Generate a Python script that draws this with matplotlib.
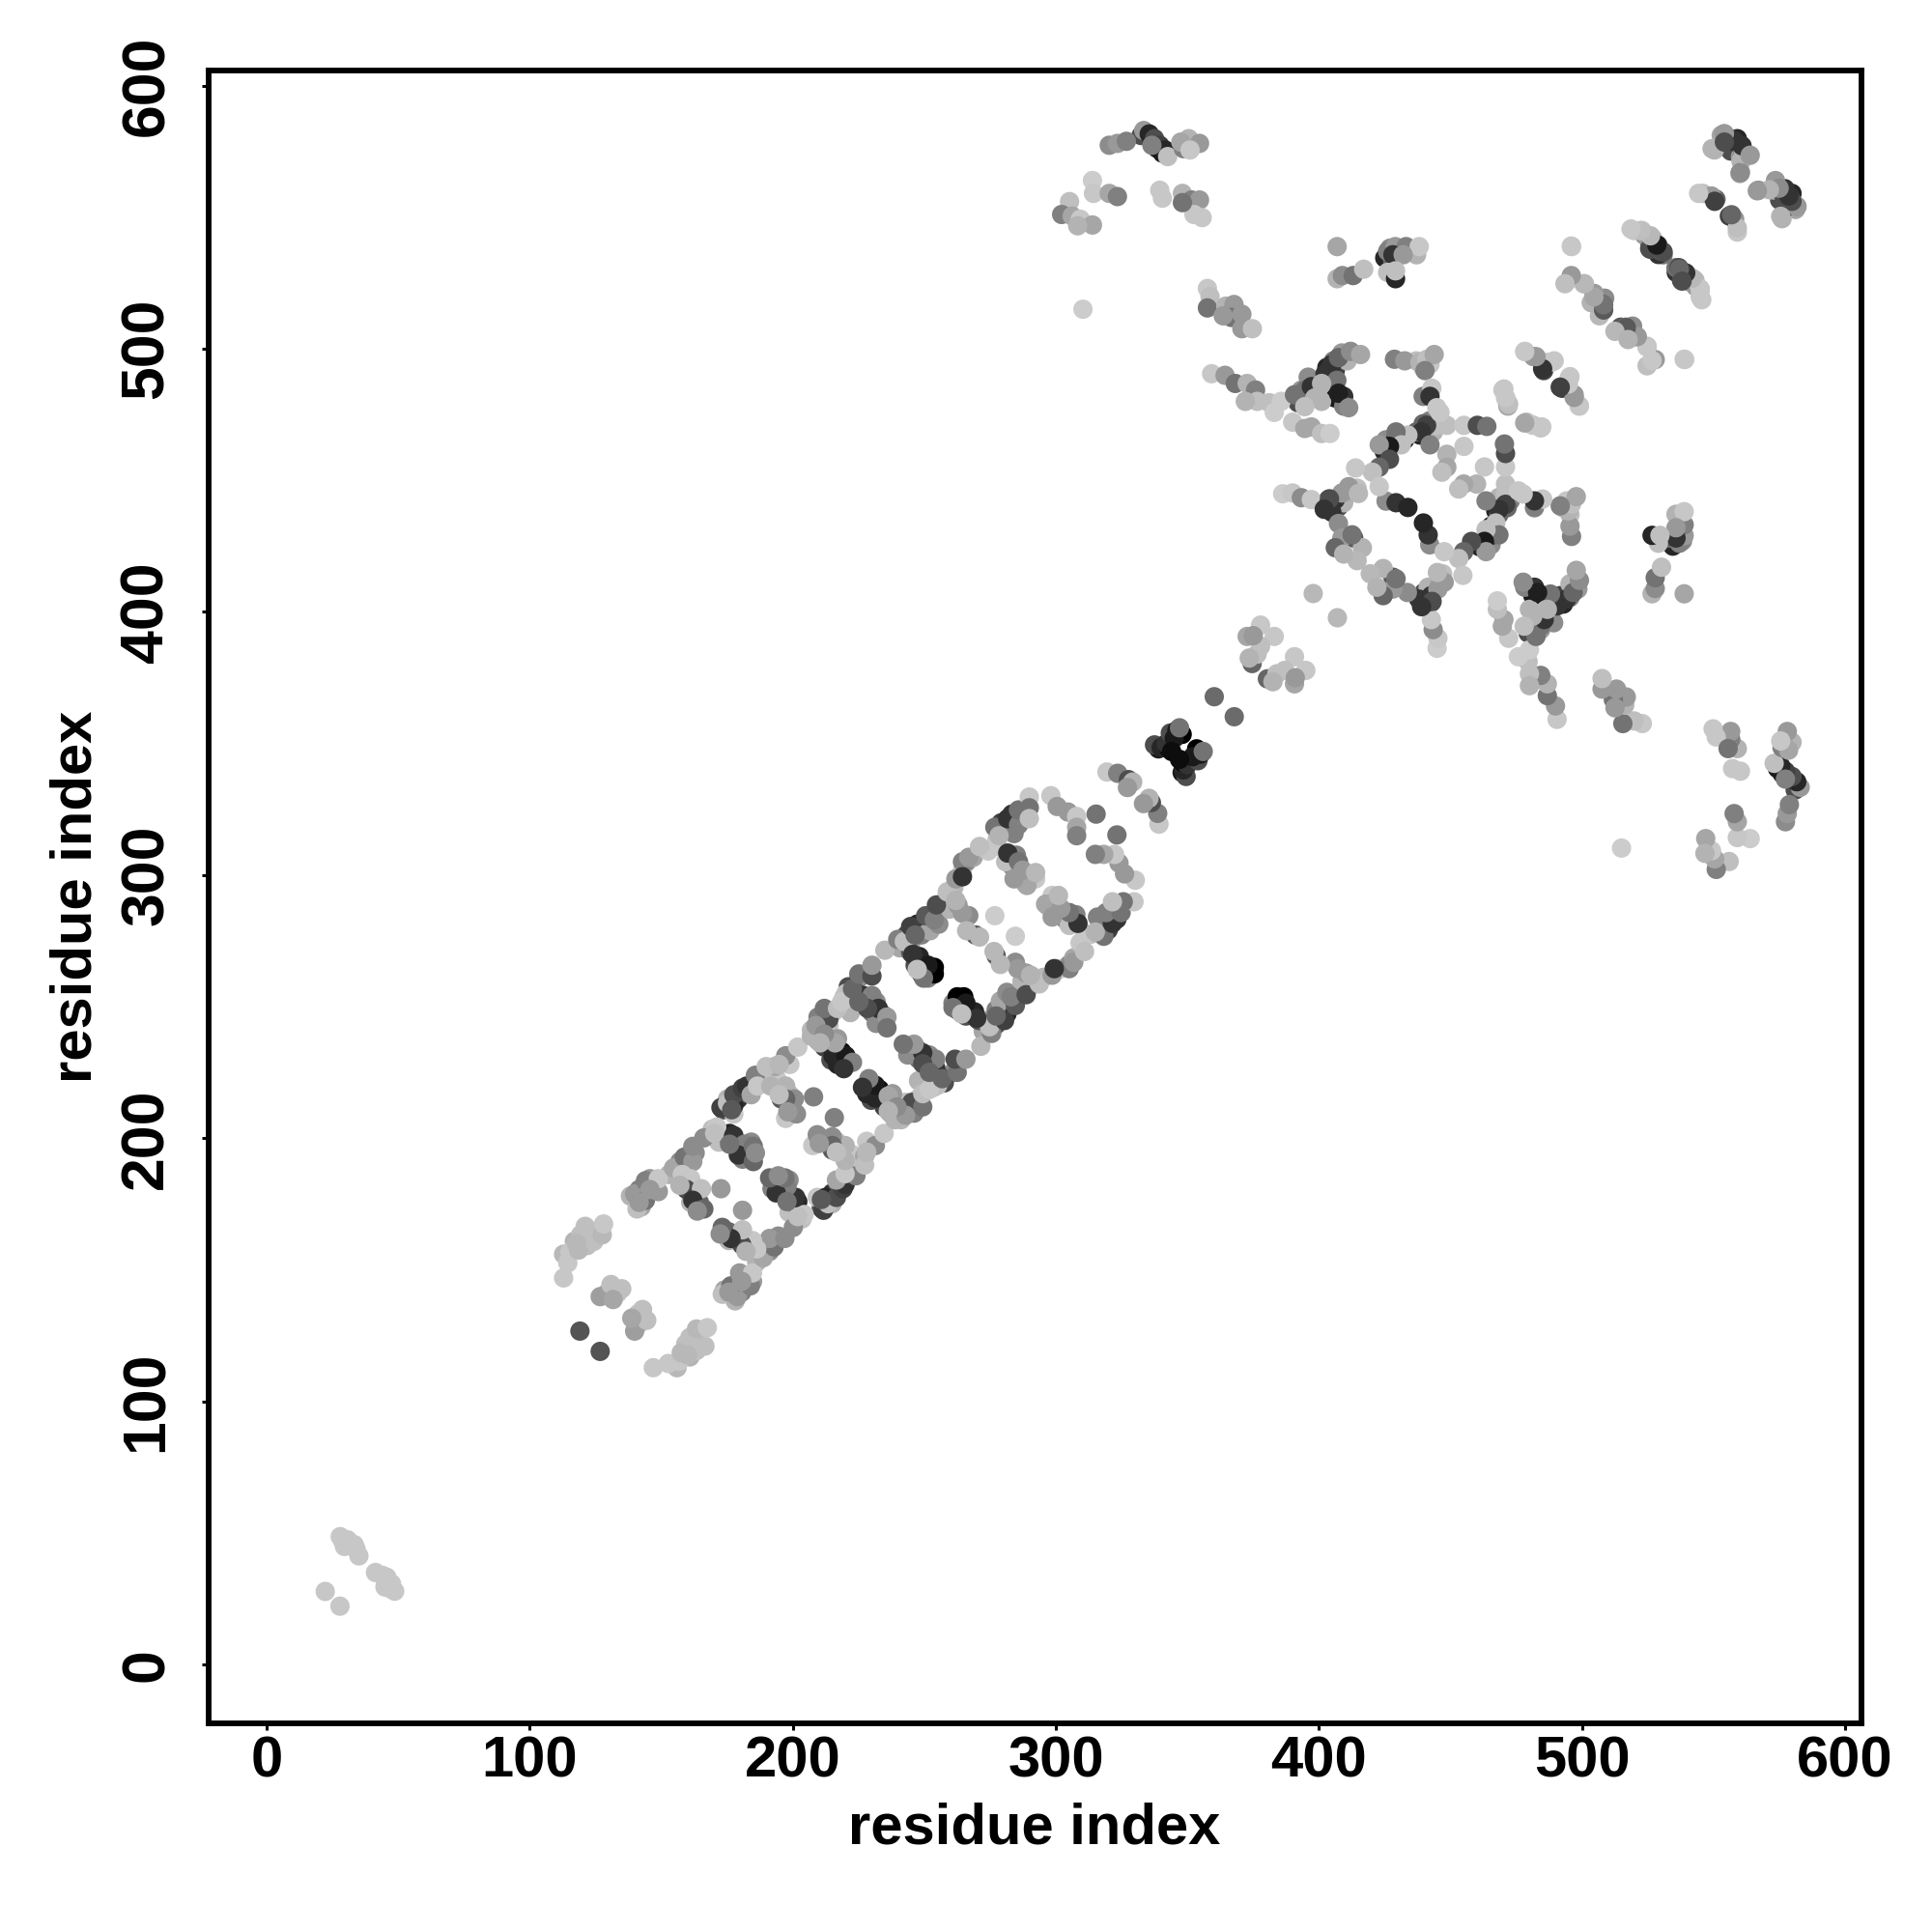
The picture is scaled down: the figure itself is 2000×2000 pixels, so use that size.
import matplotlib
matplotlib.use("Agg")
import matplotlib.pyplot as plt

# Contact pairs (residue i, residue j) with gray level; the map is symmetric in i and j.
rail_i = [140.8,139.9,144,144,148.9,148.9,145.7,141.6,154.7,158.8,162,162,166.2,171.1,170.3,172.7,175.2,177.6,176.8,180.9,182.5,184.2,185.8,189.9,186.6,197.3,194.8,201.9,207.1,209.6,213.7,212,208.8,217,220.2,218.6,222.7,225.1,230.1,230.1,235,239.9,242.4,244.8,246.5,250.5,253.8,254.6,258.7,262,264.5,264.5,266.9,271,276.8,278.4,281.7,285.8,285.8,289.9,289.9,289.9]
rail_j = [173.2,178.9,176.5,183.9,179.8,184.7,180.6,175.7,188.8,192.9,191.2,197,200.2,204.3,201.9,211.7,213.4,216.6,210.9,219.1,219.9,216.6,224,227.3,219.9,231.4,228.1,234.7,238.8,246.1,245.3,249.4,242.9,249.4,255.1,251.9,256.8,262.5,261.7,265.8,271.5,275.6,274.8,280.5,277.3,284.6,283,288.7,293.7,298.6,305.1,299.4,306.8,310.9,318.2,315,321.5,319.1,324.8,329.7,325.6,321.5]
rail_g = [.75,.6,.45,.5,.6,.78,.6,.6,.65,.45,.6,.55,.55,.78,.75,.25,.75,.3,.35,.25,.2,.65,.5,.75,.78,.55,.72,.78,.7,.5,.3,.45,.6,.75,.75,.78,.4,.45,.3,.6,.72,.5,.75,.25,.4,.35,.5,.3,.75,.6,.5,.2,.6,.75,.45,.7,.2,.5,.45,.78,.45,.75]

rung_i = [158,161.2,159.6,165.3,162,166.2,163.7,157.1,172.7,177.6,181.7,179.3,185,185,185.8,176,191.6,197.3,200.6,197.3,201.4,194.8,198.1,207.9,213.7,215.3,220.2,222.7,219.4,216.1,212,210.4,230.1,232.5,235.8,235.8,228.4,225.1,248.1,253.8,253.8,251.4,245.6,249.7,247.3,266.9,269.4,271,264.5,262,276.8,266.1,281.7,285.8,290.7,289,287.4,284.1,292.3,298.1,300.5,304.6,307.9,307.9,307.9,315.3]
rung_j = [186.3,184.7,180.6,180.9,176.5,173.2,172.4,182.2,180.9,201.1,197.8,193.7,197,191.2,194.5,197.8,219.9,219.9,215,215,209.3,216.6,210.1,215.8,236.3,231.4,231.4,228.9,226.5,236.3,239.6,236.3,254.3,249.4,246.1,242,249.4,251.9,269.1,265,262.5,265.8,269.9,260.9,264.2,284.6,277.3,276.5,285.5,290.4,284.6,278.9,308.4,305.1,300.2,296.1,301.9,298.6,301,330.2,326.1,324,322.3,318.2,315,323.2]
rung_g = [.78,.78,.3,.75,.2,.4,.55,.7,.6,.2,.5,.2,.45,.4,.55,.45,.7,.7,.55,.4,.55,.75,.6,.5,.35,.15,.1,.5,.2,.65,.55,.7,.5,.2,.6,.45,.3,.4,.15,0,0,.1,.2,.45,.75,.55,.35,.72,.6,.7,.8,.72,.2,.45,.7,.65,.6,.6,.72,.78,.6,.6,.78,.65,.5,.45]

tail_i = [112.9,114.5,115.3,118.6,119.4,121.1,124.4,127.6,128.1,117.8,126.8,130.9,135,131.7,119.1,28,29,30.8,32,33.3,34,35.1,29.6,22.3]
tail_j = [147,152.7,156.8,157.6,163.4,166.6,160.9,163.4,167.5,160,139.9,144.5,142.9,138.8,126.8,48.7,47,47.5,46,45.7,44,41.4,45,27.9]
tail_g = [.78,.78,.78,.72,.75,.75,.75,.72,.78,.72,.62,.75,.75,.65,.33,.78,.78,.78,.78,.78,.78,.78,.78,.78]

mid_i = [319.4,323.5,327.6,329.2,327.2,337.5,340,343,342,343.5,346,348,345,347,344,360.2,377.8,383,372.7,377.8,374.6,376.5,373.5,375,397.8]
mid_j = [339.2,338.7,336.3,335.4,333.3,349.5,348.5,348,350,354,355,353.5,352,356,347,367.8,395,390.7,390.7,387,380.4,384,382.5,391,407]
mid_g = [.78,.5,.3,.7,.6,.3,.15,.05,.2,.3,.1,0,.1,.45,.05,.42,.78,.78,.65,.75,.4,.75,.7,.6,.72]

ring_i = [386.2,390,393.3,397.1,403.6,406.2,408.7,414.5,411.3,404.9,407.4,413.2,416.5,408.7,414.5,406.2,409.4,412.6,425.5,429.3,433.8,428.7,432.6,438.4,441,443.8,440.3,442.9,442.2,444.8,448.6,440.9,439,446,442.2,433.8,429.3,431.3,426.8,422.9,426.8,422.9,420.3,422.9,413.9,448.6,448.6,446.7,455.1,455.1,460.2,463.8,415,404,402]
ring_j = [444.9,445.2,443.4,442.7,440.9,442.7,445.2,447,447.6,437.9,433.6,428.1,424.4,428.1,419.5,424.4,422,429.3,442.1,441.5,439.7,496,495.4,494.8,496,497.8,491.7,485,481.9,477.6,470.9,470.9,468.4,475.8,463.5,467.2,468.4,463.5,462.9,463.5,458,455,453.1,447.6,454.7,459.9,455,453.1,462.9,470.9,470.9,470.5,445,443,439]
ring_g = [.8,.78,.55,.78,.15,.2,.6,.75,.6,.2,.55,.35,.7,.6,.72,.4,.7,.45,.55,.2,.15,.5,.6,.7,.75,.65,.5,.78,.2,.78,.75,.25,.2,.78,.5,.75,.45,.75,.1,.6,.3,.4,.75,.78,.78,.7,.65,.75,.78,.78,.3,.45,.72,.3,.2]

arm_i = [359.2,364.3,368.2,372.7,375.9,376.5,372,381.1,385.6,383,390,394.6,397.1,401,404.2,390.7,394.6,397.1,398.4,402.3,404.9,407.4,412,415.8,406.8,407.4,411.3,401,394.6,478.3,481.5,486.6,489.4,485.4,495,492.4,497,498.9,469.9,471.2,471.8,478.9,481.5,484.7]
arm_j = [490.5,489.9,486.8,486.8,484.3,480,480,479.5,480,475.8,472.1,469.7,470.3,467.8,467.8,482.5,484.3,485.6,481.3,490.5,494.1,496.6,499,497.8,488,483.1,477.6,486.8,478,499,497,494.8,495.4,491.7,488.6,485,482.5,478.2,484.3,480.7,478.2,472.1,470.9,470.3]
arm_g = [.78,.6,.45,.7,.5,.75,.7,.75,.8,.8,.78,.65,.65,.75,.8,.45,.45,.2,.7,.2,.2,.4,.55,.65,.45,.12,.55,.7,.75,.78,.6,.78,.78,.25,.78,.2,.6,.78,.78,.78,.65,.75,.78,.78]

top_i = [320.3,323.4,326.8,333.4,335.5,337.5,339.5,341.5,342.5,336.5,348.5,350.5,354.6,347.5,351,313.9,314.3,320.3,323.4,305.2,302.2,306.2,309.3,313.9,308.3,339.5,340.5,348.1,351.6,354.6,355.6,352.5,348.1,310.3]
top_j = [577.3,578,578.8,582.9,581.6,579.8,577.3,575.5,573,577.3,576,579.8,578,578.5,575.5,563.9,559,559,557.8,555.9,551,550.4,549.2,547,546.7,560.2,557.2,559,556.5,556.5,549.8,551,555.5,515]
top_g = [.55,.6,.5,.6,.15,.3,.25,.15,.75,.5,.5,.7,.6,.65,.78,.8,.78,.65,.5,.75,.5,.65,.78,.65,.7,.78,.78,.7,.5,.6,.78,.78,.45,.8]

block_i = [357.6,358.6,357.6,364.6,367.7,366.7,370.7,370.7,374.7,363.6,406.9,406.9,408.9,413,417,426.1,429,433.1,438.1,428.1,432,426.1,429.1,429.1]
block_j = [522.9,519.8,515.5,516.2,516.8,511.9,513.1,507.6,507.6,512.5,538.8,526.6,527.8,527.8,530.2,537,538.8,538.8,538.8,535.7,535.7,529,526.6,529.6]
block_g = [.78,.75,.45,.7,.6,.45,.6,.6,.75,.6,.65,.7,.55,.45,.75,.5,.6,.5,.78,.2,.6,.75,.15,.75]

right_i = [496,495.5,500.6,504.6,508,506.6,503.5,514.7,516.7,519.7,524.7,527.8,524.7,539,519.7,522.8,526.8,528.8,530.2,525.7,536.8,539.4,542.9,544.9,545.5,553.9,556,558,561,550.3,560.4,560,545.9,550.9,558,556,559,567,574,577.1,579.1,581.7,576,573.5,578.5]
right_j = [538.8,526.6,524.7,521,516.8,512.5,517.5,508.2,508.2,504.5,500.9,495.9,493.5,495.9,544.9,544.9,541.9,539.4,537,538,530.8,528.4,526,522.3,518.6,581.6,579.8,578.6,574.9,575.5,571.2,566.6,559,556.8,549.2,550.4,544.3,560.2,561.4,560.8,557.8,554.1,549.4,563.9,554.1]
right_g = [.78,.78,.78,.6,.35,.72,.7,.35,.45,.65,.72,.6,.75,.78,.78,.78,.72,.2,.4,.3,.3,.1,.72,.75,.78,.6,.3,.2,.55,.7,.7,.6,.75,.4,.6,.25,.78,.55,.7,.2,.2,.6,.7,.6,.3]

# further pairs read from the crowded stretches of the ladder
dense_i = [173.5,177.6,175.2,179.3,181.7,184.2,185.8,187.5,177.6,169.4,171.9,172.7,175.2,207.1,209.6,212,215.3,213.7,219.4,221.9,225.1,223.5,226.8,221.1,243.2,240.7,244.8,247.3,248.9,251.4,252.2,255.5,257.9,259.6,262.8,261.2,264.5,266.1,268.6,274.3,277.6,280.9,283.3,279.2,287.4,284.1,276.8]
dense_j = [210.9,209.3,215,215,217.5,219.1,221.6,223.2,212.5,203.5,198.6,201.9,201.1,241.2,237.1,244.5,247.8,242.9,253.5,247.8,260.9,256,254.3,257.6,277.3,272.4,274,281.4,277.3,283.8,278.9,281.4,290.4,287.1,288.7,295.3,301.9,305.1,306.8,309.2,313.3,318.2,323.2,319.9,321.5,315.8,310.9]
dense_g = [.3,.78,.7,.2,.4,.78,.78,.7,.15,.75,.75,.7,.25,.72,.6,.3,.78,.75,.75,.7,.55,.3,.2,.3,.3,.65,.6,.15,.5,.2,.65,.55,.75,.7,.6,.72,.78,.55,.65,.78,.75,.3,.2,.25,.6,.5,.78]

rungx_i = [246.5,248.9,251.4,244.8,212,214.5,217,218.6,217,230.1,231.7,234.2,231.7,283.3,285,280.9,288.2,292.3,176,180.1,182.5,184.2,180.9,194,198.9,195.6,200.6,197.3,158,162,164.5,163.7,161.2,138.3,141.6,142.4,145.7,147.3,153,157.1,159.6,162.9,191.6,193.2,198.9,112.9,117,121.9,125.2,129.3,133.4]
rungx_j = [265.8,262.5,260.9,270.7,234.7,229.8,228.1,233,237.9,247.8,251.9,247,243.7,303.5,307.6,305.1,297,298.6,201.9,197,195.3,198.6,192.1,222.4,216.6,215,210.1,207.6,183.9,179.8,175.7,180.6,175.7,178.1,180.6,174,184.7,182.2,186.3,191.2,188.8,194.5,224.8,227.3,228.1,156,160.9,159.3,164.2,141.2,141.2]
rungx_g = [.3,.15,.5,.35,.25,.3,.15,.05,.6,.45,.55,.3,.55,.55,.5,.75,.75,.78,.15,.25,.3,.55,.5,.78,.75,.35,.6,.78,.4,.15,.4,.7,.7,.7,.5,.65,.6,.65,.7,.55,.75,.55,.78,.65,.78,.72,.7,.75,.72,.7,.78]

# further pairs read from the crowded stretches of the upper-right part
upperx_i = [403,404.2,405.5,406.2,408.7,410.7,403.6,406.2,409.4,409.4,395.9,393.3,392,401,438.4,440.9,443.5,442.2,444.8,439.6,437,437,439.6,442.2,439.6,402.3,404.9,406.2,407.4,403.6,409.4,410.7,425.5,424.8,429.3,432.6,332.4,336.5,338.5,340.5,558,559,576.1,578.1,580.1,575.1,581.1,573,525.7,528.8,530.8,523.7,535.8,537.8,507.6,508.6,425,428,427,430,434.1,437.1,339,341,346,347]
upperx_j = [492.9,489.2,495.4,491.7,498.4,495.4,485.6,481.3,481.9,478.2,489.2,484.3,479.5,480,467.2,467.8,468.4,472.7,470.9,471.5,468.4,495.4,492.9,494.1,481.9,440.6,439.9,441,439.9,442.7,441.5,445.9,465.4,461,466,465.4,581,578.6,576.1,574.3,576.7,579.8,559,556.5,554.7,556.5,552.9,560.2,540.6,537.6,535.7,543.1,529,526,514.9,519.2,534.5,533.3,538.2,535.7,537,535.7,348,349,353,354.5]
upperx_g = [.15,.1,.5,.25,.6,.7,.75,.1,.2,.5,.55,.6,.3,.7,.15,.2,.7,.5,.75,.4,.4,.75,.7,.78,.5,.15,.2,.1,.3,.3,.7,.65,.55,.15,.2,.15,.3,.2,.1,.1,.3,.15,.2,.1,.4,.3,.65,.6,.15,.3,.45,.6,.2,.3,.3,.55,.15,.4,.55,.78,.65,.7,.1,.05,.05,0]

tick_values = [0, 100, 200, 300, 400, 500, 600]
axis_label = "residue index"

plt.rcParams['font.family'] = ['Liberation Sans', 'DejaVu Sans']
plt.rcParams['font.weight'] = 'bold'

fig = plt.figure(figsize=(10, 10), dpi=200)
ax = fig.add_axes([216.3/2000, 1-1783.7/2000, (1927-216.3)/2000, (1783.7-72.7)/2000])

groups = [(dense_i, dense_j, dense_g), (rungx_i, rungx_j, rungx_g), (upperx_i, upperx_j, upperx_g),
          (tail_i, tail_j, tail_g), (rail_i, rail_j, rail_g), (rung_i, rung_j, rung_g),
          (mid_i, mid_j, mid_g), (ring_i, ring_j, ring_g), (arm_i, arm_j, arm_g),
          (block_i, block_j, block_g), (top_i, top_j, top_g), (right_i, right_j, right_g)]
for gi, gj, gg in groups:
    colors = [str(v) for v in gg]
    ax.scatter(gi, gj, s=52, c=colors, linewidths=0, zorder=2)
    ax.scatter(gj, gi, s=52, c=colors, linewidths=0, zorder=2)

ax.set_xlim(-21.9, 606.2)
ax.set_ylim(-22.1, 605.8)
ax.set_xticks(tick_values)
ax.set_yticks(tick_values)
ax.tick_params(axis='x', length=2.4, width=1.1, labelsize=21.5, pad=2.2)
ax.tick_params(axis='y', length=2.4, width=1.1, labelsize=22.5, pad=10)
for lab in ax.get_yticklabels():
    lab.set_rotation(90)
    lab.set_va('center')
for s in ax.spines.values():
    s.set_linewidth(2.1)
fig.text(1071/2000, 1-1893/2000, axis_label, fontsize=21.5, fontweight='bold', ha='center', va='center')
fig.text(79/2000, 1-928/2000, axis_label, fontsize=21.5, fontweight='bold', ha='center', va='center', rotation=90)
fig.savefig("out.png", dpi=200)
